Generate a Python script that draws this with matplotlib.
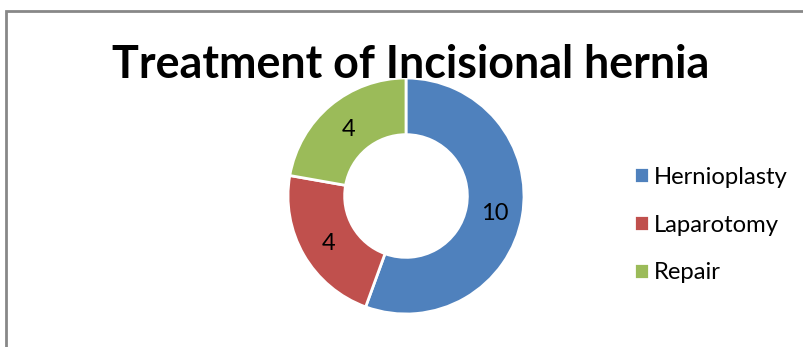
import matplotlib.pyplot as plt
import numpy as np
from matplotlib.patches import Rectangle

# treatment counts
categories = ['Hernioplasty', 'Laparotomy', 'Repair']
counts = [10, 4, 4]
colors = ['#4F81BD', '#C0504D', '#9BBB59']

plt.rcParams['font.family'] = ['Lato', 'DejaVu Sans']

W, H = 804, 347
fig = plt.figure(figsize=(W / 100, H / 100), dpi=100)

# chart frame (runs off the right and bottom edge)
fig.patches.append(Rectangle((6.5 / W, -0.1), 1.0, (H - 11) / H + 0.1,
                             transform=fig.transFigure, fill=False,
                             edgecolor='#888888', lw=2))

# doughnut
cx, cy, r = 406, 196, 118
ax = fig.add_axes([(cx - r) / W, (H - cy - r) / H, 2 * r / W, 2 * r / H])
wedges, texts = ax.pie(counts, colors=colors, startangle=90, counterclock=False,
                       radius=1.0,
                       wedgeprops=dict(width=0.48, edgecolor='white', linewidth=2))
ax.set_xlim(-1, 1)
ax.set_ylim(-1, 1)
ax.set_aspect('equal')
ax.axis('off')

# value labels at the middle of the ring
mid_r = 1 - 0.48 / 2
for w, v in zip(wedges, counts):
    ang = np.deg2rad((w.theta1 + w.theta2) / 2)
    ax.text(mid_r * np.cos(ang), mid_r * np.sin(ang) - 0.02, str(v),
            ha='center', va='center', fontsize=17, color='black')

fig.text(411 / W, 1 - 65 / H, 'Treatment of Incisional hernia',
         ha='center', va='center', fontsize=32.3, fontweight='bold')

fig.legend(wedges, categories, loc='center left',
           bbox_to_anchor=(622 / W, 1 - 225 / H), frameon=False,
           fontsize=17.2, handlelength=0.62, handleheight=0.62,
           handletextpad=0.2, labelspacing=1.13, borderpad=0)

fig.savefig('out.png', dpi=100)
